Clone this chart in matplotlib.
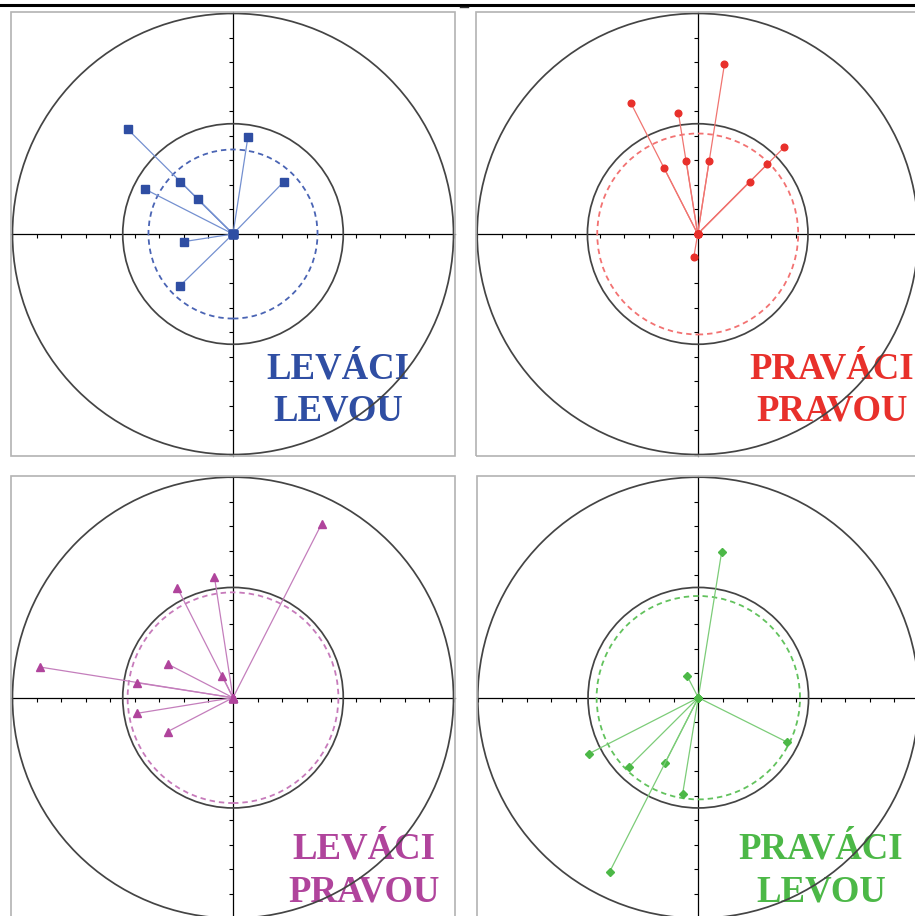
import numpy as np
import matplotlib.pyplot as plt
from matplotlib.patches import Circle, Rectangle
from matplotlib.lines import Line2D

# endpoints of the vectors (deg), one set per group
lev_lev_x = [-42.9, -21.6, -14.4, 6.1, 20.8, -36.1, -20.0, -21.6]
lev_lev_y = [42.7, 21.4, 14.1, 39.7, 21.4, 18.4, -3.1, -21.1]

prav_prav_x = [-27.3, -13.7, -7.9, -4.7, 10.9, 4.7, 35.3, 28.4, 21.2, -1.6]
prav_prav_y = [53.5, 26.9, 49.5, 29.9, 69.2, 29.9, 35.4, 28.5, 21.3, -9.5]

lev_prav_x = [36.2, -7.6, -22.7, -4.3, -26.6, -78.7, -39.3, -39.3, -26.6]
lev_prav_y = [71.0, 49.4, 44.8, 8.8, 13.7, 12.5, 6.1, -6.4, -13.8]

prav_lev_x = [9.5, -4.5, 36.0, -44.5, -28.2, -13.6, -36.2, -6.4]
prav_lev_y = [59.3, 8.8, -18.0, -22.8, -28.1, -26.7, -71.1, -39.3]

# mean radius (dashed circle)
mean_r = [34.5, 41.0, 43.0, 41.5]

labels = [('LEVÁCI', 'LEVOU'), ('PRAVÁCI', 'PRAVOU'),
          ('LEVÁCI', 'PRAVOU'), ('PRAVÁCI', 'LEVOU')]

panels = [
    dict(x=lev_lev_x, y=lev_lev_y, c='#2f4ea3', lc='#7490d0', dc='#4a64b4',
         m='s', ms=5.2, center=(233.0, 234.0), tx=43, ty=(-58.8, -76.3)),
    dict(x=prav_prav_x, y=prav_prav_y, c='#e8302b', lc='#f07470', dc='#f27272',
         m='o', ms=4.8, center=(697.7, 234.0), tx=54.7, ty=(-58.8, -76.3)),
    dict(x=lev_prav_x, y=lev_prav_y, c='#b0449c', lc='#c47ebc', dc='#c77bbb',
         m='^', ms=6.0, center=(233.0, 697.7), tx=53.5, ty=(-65.8, -83.0)),
    dict(x=prav_lev_x, y=prav_lev_y, c='#4cb847', lc='#7ccc78', dc='#62c25d',
         m='D', ms=4.0, center=(698.3, 697.7), tx=50.0, ty=(-65.8, -83.0)),
]

W, H = 915, 916
size = 443.5
lim = 90.5

fig = plt.figure(figsize=(W / 100, H / 100), dpi=100)

for p, r, (t1, t2) in zip(panels, mean_r, labels):
    cx, cy = p['center']
    ax = fig.add_axes([(cx - size / 2) / W, 1 - (cy + size / 2) / H,
                       size / W, size / H])
    ax.set_xlim(-lim, lim)
    ax.set_ylim(-lim, lim)

    # axes through the origin with outward ticks
    for side in ['top', 'right']:
        ax.spines[side].set_visible(False)
    for side in ['left', 'bottom']:
        ax.spines[side].set_position(('data', 0))
        ax.spines[side].set_color('black')
        ax.spines[side].set_linewidth(0.9)
        ax.spines[side].set_zorder(2)
    ax.set_xticks(np.arange(-90, 91, 10))
    ax.set_yticks(np.arange(-90, 91, 10))
    ax.tick_params(direction='out', length=2.6, width=0.8, color='black',
                   labelbottom=False, labelleft=False)

    ax.add_artist(Rectangle((0, 0), 1, 1, transform=ax.transAxes, fill=False,
                            ec='#b3b3b3', lw=1.2, clip_on=False, zorder=5))

    for txt, ty in zip((t1, t2), p['ty']):
        ax.text(p['tx'], ty, txt, ha='center', va='baseline',
                family='Liberation Serif', weight='bold', fontsize=26.5,
                color=p['c'], zorder=1)

    ax.add_patch(Circle((0, 0), 90, fill=False, ec='#444444', lw=1.25, zorder=3))
    ax.add_patch(Circle((0, 0), 45, fill=False, ec='#444444', lw=1.25, zorder=3))
    ax.add_patch(Circle((0, 0), r, fill=False, ec=p['dc'], lw=1.3,
                        ls=(0, (3, 2.2)), zorder=3))

    for x, y in zip(p['x'], p['y']):
        ax.plot([0, x], [0, y], color=p['lc'], lw=0.9, zorder=4,
                marker=p['m'], ms=p['ms'], mfc=p['c'], mec=p['c'])

# rule above the figure
fig.add_artist(Line2D([0, 1], [1 - 5 / H, 1 - 5 / H], transform=fig.transFigure,
                      color='black', lw=2.2))
fig.add_artist(Line2D([460 / W, 468 / W], [1 - 6.5 / H, 1 - 6.5 / H],
                      transform=fig.transFigure, color='#333333', lw=1.0))

fig.savefig('out.png', dpi=100)
